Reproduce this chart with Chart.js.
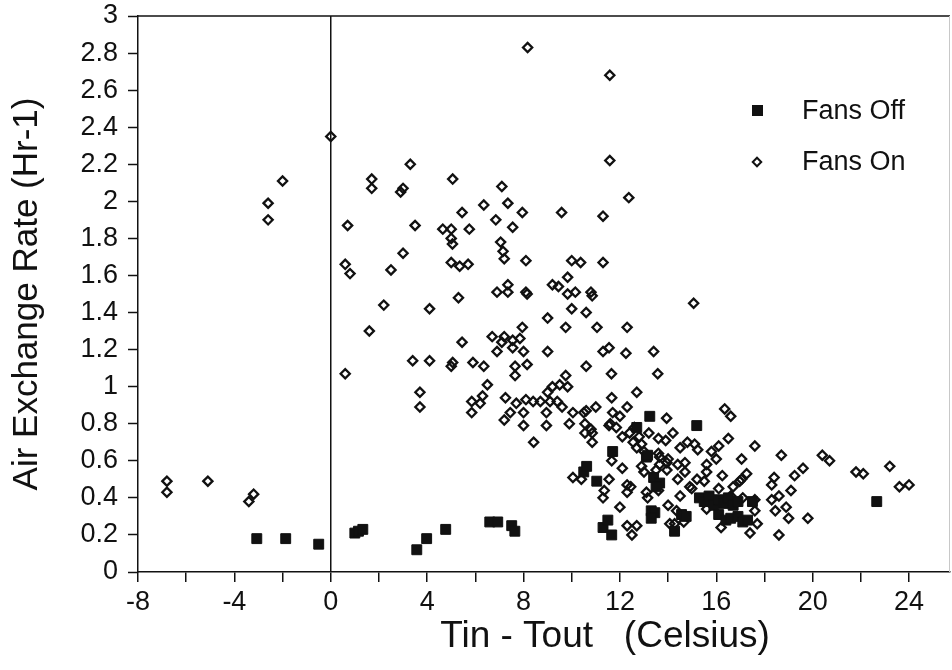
<!DOCTYPE html>
<html>
<head>
<meta charset="utf-8">
<script src="https://cdn.jsdelivr.net/npm/chart.js@4/dist/chart.umd.min.js"></script>
<style>
  html, body { margin: 0; padding: 0; background: #fff; overflow: hidden; }
  #wrap { position: relative; width: 952px; height: 670px; }
  #legend { position: absolute; left: 748px; top: 85px; font-family: "Liberation Sans", Arial, sans-serif; font-size: 27px; color: #111; }
  .legend-item { display: flex; align-items: center; height: 51px; }
  .legend-mark { width: 18px; height: 18px; margin-right: 36px; display: flex; align-items: center; justify-content: center; }
  .mark-square { width: 11px; height: 11px; background: #111; }
  .mark-diamond { width: 4px; height: 4px; border: 2px solid #111; transform: rotate(45deg); }
</style>
</head>
<body>
<div id="wrap">
  <canvas id="myChart" width="952" height="670"></canvas>
  <div id="legend"></div>
</div>
<script>
// data (Tin - Tout, air exchange rate)
const fansOff = [
  [-3.07, 0.18], [-1.87, 0.18], [-0.5, 0.15], [1.0, 0.21], [1.15, 0.22], [1.33, 0.23],
  [3.57, 0.12], [3.98, 0.18], [4.77, 0.23], [6.6, 0.27], [6.93, 0.27], [7.51, 0.25], [7.64, 0.22],
  [10.5, 0.54], [10.62, 0.57], [11.04, 0.49], [11.3, 0.24], [11.5, 0.28], [11.66, 0.2], [11.7, 0.65],
  [12.7, 0.78], [13.1, 0.62], [13.15, 0.63], [13.24, 0.84], [13.3, 0.33], [13.45, 0.32], [13.3, 0.29],
  [13.4, 0.51], [13.65, 0.48], [13.5, 0.46], [14.27, 0.22], [14.56, 0.31], [14.75, 0.3], [15.19, 0.79],
  [15.3, 0.4], [15.5, 0.38], [15.7, 0.41], [15.9, 0.36], [16.1, 0.39], [16.3, 0.37], [16.5, 0.4],
  [16.7, 0.36], [16.9, 0.38], [16.1, 0.31], [16.4, 0.28], [16.6, 0.29], [16.9, 0.3], [17.1, 0.27],
  [17.3, 0.28], [17.5, 0.38], [22.66, 0.38]
];

const fansOn = [
  [-6.8, 0.49], [-6.8, 0.43], [-5.1, 0.49], [-3.2, 0.42], [-3.4, 0.38],
  [-2.6, 1.99], [-2.6, 1.9], [-2.0, 2.11], [0.0, 2.35],
  [0.6, 1.66], [0.8, 1.61], [0.7, 1.87], [0.6, 1.07], [1.6, 1.3], [1.7, 2.12], [1.7, 2.07],
  [2.2, 1.44], [2.5, 1.63], [2.9, 2.05], [3.0, 2.07], [3.0, 1.72], [3.3, 2.2], [3.5, 1.87],
  [3.4, 1.14], [3.7, 0.97], [3.7, 0.89], [4.1, 1.42], [4.1, 1.14], [4.65, 1.85], [5.0, 1.85],
  [5.0, 1.8], [5.05, 1.77], [5.0, 1.67], [5.06, 2.12], [5.0, 1.11], [5.06, 1.13], [5.3, 1.48],
  [5.35, 1.65], [5.45, 1.94], [5.45, 1.24], [5.7, 1.66], [5.75, 1.85],
  [5.85, 0.92], [5.85, 0.86], [5.9, 1.13], [6.2, 0.91], [6.3, 0.95], [6.35, 1.98], [6.35, 1.11],
  [6.5, 1.01], [6.7, 1.27], [6.85, 1.9], [6.9, 1.51], [6.9, 1.19], [7.05, 1.78], [7.1, 2.08],
  [7.1, 1.24], [7.15, 1.73], [7.2, 1.69], [7.2, 1.27], [7.25, 0.94], [7.2, 0.82], [7.35, 1.99],
  [7.35, 1.55], [7.35, 1.51], [7.45, 0.86], [7.55, 1.86], [7.55, 1.25], [7.55, 1.21], [7.65, 1.11],
  [7.65, 1.06], [7.7, 0.91], [7.85, 1.26], [7.95, 1.94], [7.95, 1.32], [8.0, 1.19], [8.0, 0.86],
  [8.0, 0.79], [8.1, 1.68], [8.1, 1.51], [8.15, 1.5], [8.15, 1.12], [8.1, 0.93], [8.17, 2.83],
  [8.4, 0.92], [8.42, 0.7], [8.7, 0.92], [8.95, 0.86], [8.95, 0.79], [9.0, 1.37], [9.0, 1.19],
  [9.0, 0.97], [9.1, 0.92], [9.2, 1.55], [9.2, 1.0], [9.4, 0.92], [9.45, 1.54], [9.5, 1.01],
  [9.58, 1.94], [9.6, 0.89], [9.75, 1.32], [9.75, 1.06], [9.83, 1.59], [9.83, 1.5], [9.83, 1.0],
  [9.9, 0.8], [10.0, 1.68], [10.0, 1.42], [10.05, 0.86], [10.05, 0.51],
  [10.15, 1.51], [10.37, 1.67], [10.4, 0.5], [10.5, 0.86], [10.6, 0.87], [10.55, 0.8], [10.55, 0.75],
  [10.6, 1.4], [10.6, 1.11], [10.8, 1.51], [10.85, 1.49], [10.85, 0.75], [10.85, 0.7], [10.8, 0.77],
  [11.0, 0.89], [11.05, 1.32], [11.3, 1.92], [11.3, 1.67], [11.3, 1.19], [11.3, 0.4], [11.35, 0.44],
  [11.55, 1.21], [11.55, 0.79], [11.55, 0.5], [11.58, 2.68], [11.58, 2.22], [11.6, 0.8], [11.65, 1.07],
  [11.66, 0.94], [11.66, 0.6], [11.7, 0.86], [11.85, 0.78], [12.0, 0.84], [12.0, 0.35], [12.1, 0.73],
  [12.1, 0.56], [12.25, 1.18], [12.3, 0.89], [12.3, 1.32], [12.3, 0.47], [12.3, 0.43], [12.3, 0.25],
  [12.37, 2.02], [12.4, 0.75], [12.5, 0.2], [12.55, 0.7], [12.7, 0.97], [12.7, 0.67], [12.7, 0.25],
  [12.45, 0.46], [12.6, 0.78], [12.8, 0.73], [12.9, 0.69], [13.0, 0.65],
  [12.9, 0.57], [13.0, 0.54], [13.1, 0.43], [13.15, 0.4], [13.2, 0.75], [13.4, 1.19], [13.5, 0.55],
  [13.57, 1.07], [13.6, 0.72], [13.6, 0.64], [13.6, 0.44], [13.65, 0.62], [13.65, 0.58], [13.9, 0.71],
  [13.94, 0.83], [13.95, 0.59], [13.95, 0.55], [14.0, 0.36], [14.0, 0.61], [14.07, 0.26], [14.2, 0.75],
  [14.27, 0.26], [14.35, 0.33], [14.4, 0.58], [14.4, 0.5], [14.5, 0.67], [14.5, 0.41], [14.65, 0.27],
  [14.7, 0.59], [14.7, 0.54], [14.8, 0.7], [14.9, 0.46], [14.98, 0.45], [15.06, 1.45], [15.1, 0.69],
  [15.23, 0.66], [15.2, 0.5], [15.5, 0.49], [15.6, 0.58], [15.6, 0.54], [15.6, 0.34], [15.8, 0.65],
  [16.0, 0.61], [16.1, 0.68], [16.1, 0.45], [16.25, 0.52], [16.2, 0.24], [16.35, 0.88], [16.5, 0.72],
  [16.6, 0.84], [16.6, 0.41], [16.7, 0.46], [16.97, 0.49], [17.05, 0.61], [17.05, 0.5], [17.1, 0.4],
  [17.26, 0.53], [17.4, 0.21], [17.6, 0.68], [17.6, 0.39], [17.6, 0.33], [17.7, 0.26], [18.3, 0.47],
  [18.3, 0.39], [18.4, 0.51], [18.45, 0.33], [18.6, 0.41], [18.6, 0.2], [18.7, 0.63], [18.9, 0.35],
  [19.0, 0.29], [19.1, 0.44], [19.25, 0.52], [19.6, 0.56], [19.8, 0.29], [20.4, 0.63], [20.7, 0.6],
  [21.8, 0.54], [22.1, 0.53], [23.2, 0.57], [23.6, 0.46], [24.0, 0.47]
];

const xTickValues = [-8, -6, -4, -2, 0, 2, 4, 6, 8, 10, 12, 14, 16, 18, 20, 22, 24];
const xLabelStep = 4; // label hanya tiap 4 derajat
const xTitleText = "Tin - Tout   (Celsius)";
const yTitleText = "Air Exchange Rate (Hr-1)";

const ink = "#111";
const family = "'Liberation Sans', Arial, sans-serif";

// garis atas dan kanan kotak plot
const frame = {
  id: "frame",
  beforeDatasetsDraw(chart) {
    const { ctx, chartArea: a } = chart;
    ctx.save();
    ctx.strokeStyle = ink;
    ctx.lineWidth = 1.5;
    ctx.beginPath();
    ctx.moveTo(a.left, a.top);
    ctx.lineTo(a.right, a.top);
    ctx.stroke();
    ctx.strokeStyle = "#c8c8c8";
    ctx.lineWidth = 1;
    ctx.beginPath();
    ctx.moveTo(a.right - 0.5, a.top);
    ctx.lineTo(a.right - 0.5, a.bottom);
    ctx.stroke();
    ctx.restore();
  },
};

// judul sumbu x (agak ke kanan, seperti aslinya)
const xTitle = {
  id: "xTitle",
  afterDraw(chart) {
    const { ctx, chartArea: a } = chart;
    ctx.save();
    ctx.font = "37px " + family;
    ctx.fillStyle = ink;
    ctx.textAlign = "center";
    ctx.textBaseline = "middle";
    ctx.fillText(xTitleText, (a.left + a.right) / 2 + 61, a.bottom + 65);
    ctx.restore();
  },
};

// tanpa padding ekstra dari label tick, supaya kotak plot pas
const noPad = (s) => {
  s.paddingTop = 0;
  s.paddingBottom = 0;
  s.paddingLeft = 0;
  s.paddingRight = 0;
};

var ctx = document.getElementById("myChart").getContext("2d");

var myChart = new Chart(ctx, {
  type: "scatter",
  data: {
    datasets: [
      {
        label: "Fans Off",
        data: fansOff.map((p) => ({ x: p[0], y: p[1] })),
        pointStyle: "rect",
        pointRadius: 7,
        backgroundColor: ink,
        borderColor: ink,
        borderWidth: 1,
      },
      {
        label: "Fans On",
        data: fansOn.map((p) => ({ x: p[0], y: p[1] })),
        pointStyle: "rectRot",
        pointRadius: 4.6,
        backgroundColor: "rgba(255,255,255,0)",
        borderColor: ink,
        borderWidth: 2.3,
      },
    ],
  },
  options: {
    responsive: false,
    animation: false,
    layout: { autoPadding: false, padding: { top: 16, right: 2, left: 0, bottom: 0 } },
    plugins: {
      legend: { display: false },
      tooltip: { enabled: false },
    },
    scales: {
      x: {
        type: "linear",
        min: -8,
        max: 25.7,
        afterFit: (s) => { s.height = 98; noPad(s); },
        afterBuildTicks: (s) => { s.ticks = xTickValues.map((v) => ({ value: v })); },
        ticks: {
          autoSkip: false,
          maxRotation: 0,
          color: ink,
          padding: 4,
          font: { family: family, size: 27 },
          callback: (v) => (v % xLabelStep === 0 ? v : ""),
        },
        grid: {
          color: (c) => (c.tick && c.tick.value === 0 ? ink : "rgba(0,0,0,0)"),
          lineWidth: 1.5,
          tickLength: 10,
          tickColor: ink,
          tickWidth: 1.5,
        },
        border: { display: true, color: ink, width: 1.5 },
      },
      y: {
        min: 0,
        max: 3,
        afterFit: (s) => { s.width = 138; noPad(s); },
        ticks: {
          stepSize: 0.2,
          color: ink,
          padding: 10,
          font: { family: family, size: 27 },
          callback: (v) => String(Number(v.toFixed(1))),
        },
        grid: {
          drawOnChartArea: false,
          tickLength: 10,
          tickColor: ink,
          tickWidth: 1.5,
        },
        border: { display: true, color: ink, width: 1.5 },
        title: {
          display: true,
          text: yTitleText,
          color: ink,
          padding: { top: 6, bottom: 0 },
          font: { family: family, size: 35 },
        },
      },
    },
  },
  plugins: [frame, xTitle],
});

// legenda manual di dalam area plot
const legendContainer = document.getElementById("legend");
myChart.data.datasets.forEach((ds) => {
  const legendItem = document.createElement("div");
  legendItem.className = "legend-item";

  const legendMark = document.createElement("span");
  legendMark.className = "legend-mark";
  const shape = document.createElement("span");
  shape.className = ds.pointStyle === "rect" ? "mark-square" : "mark-diamond";
  legendMark.appendChild(shape);

  const legendText = document.createElement("span");
  legendText.textContent = ds.label;

  legendItem.appendChild(legendMark);
  legendItem.appendChild(legendText);
  legendContainer.appendChild(legendItem);
});
</script>
</body>
</html>
